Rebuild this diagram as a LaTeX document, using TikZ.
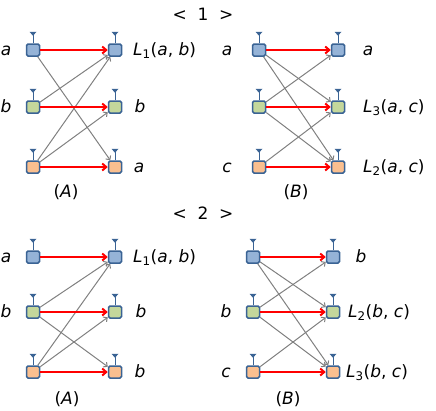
\documentclass[tikz,border=0pt]{standalone}
\usepackage{fontspec}
\setmainfont{DejaVu Sans}
\usetikzlibrary{arrows.meta}
\definecolor{portblue}{HTML}{95B3D7}
\definecolor{portgreen}{HTML}{C4D79B}
\definecolor{portorange}{HTML}{FABF8F}
\definecolor{portedge}{HTML}{3A6394}
\newcommand{\Lab}[3]{\textit{L}\textsubscript{#1}(\textit{#2},\ \textit{#3})}
\begin{document}
\begin{tikzpicture}[x=1pt,y=-1pt,
    port/.style={draw=portedge, line width=1.5pt, rounded corners=1.5pt,
      minimum width=13pt, minimum height=12pt, inner sep=0pt},
    match/.style={red, line width=2pt, -{Straight Barb[length=4pt,width=7pt]}},
    cross/.style={gray, line width=1pt, -{Straight Barb[length=3pt,width=6pt]}},
    lbl/.style={font=\fontsize{17}{20}\selectfont, inner sep=0pt}]
  \useasboundingbox (0,0) rectangle (436,410);
  % the four panels: left x, right x, row y
  \foreach \p/\xl/\xr/\ya/\yb/\yc in {1/33/115/50/107/167, 2/259/338/50/107/167,
      3/33/115/257/312/372, 4/253/333/257/312/372} {
    \node[port, fill=portblue]   (p\p-l1) at (\xl,\ya) {};
    \node[port, fill=portgreen]  (p\p-l2) at (\xl,\yb) {};
    \node[port, fill=portorange] (p\p-l3) at (\xl,\yc) {};
    \node[port, fill=portblue]   (p\p-r1) at (\xr,\ya) {};
    \node[port, fill=portgreen]  (p\p-r2) at (\xr,\yb) {};
    \node[port, fill=portorange] (p\p-r3) at (\xr,\yc) {};
  }
  % antennas
  \foreach \p in {1,...,4}
    \foreach \s in {l,r}
      \foreach \k in {1,2,3} {
        \draw[portedge, line width=1pt] (p\p-\s\k.north) -- ++(0,-8);
        \fill[portedge, shift={(p\p-\s\k.north)}] (-3.5,-11.5) -- (3.5,-11.5) -- (0,-7.5) -- cycle;
      }
  % crossing links
  \foreach \p/\a/\b in {1/1/3, 1/2/1, 1/3/1, 1/3/2,
      2/1/2, 2/1/3, 2/2/1, 2/2/3, 2/3/2,
      3/2/1, 3/2/3, 3/3/1, 3/3/2,
      4/1/2, 4/1/3, 4/2/1, 4/2/3, 4/3/2}
    \draw[cross] (p\p-l\a) -- (p\p-r\b);
  % straight links
  \foreach \p in {1,...,4}
    \foreach \k in {1,2,3}
      \draw[match] (p\p-l\k) -- (p\p-r\k);
  % labels
  \node[lbl] (t1) at (203,14) {<\ \ 1\ \ >};
  \node[lbl] (t2) at (203,213) {<\ \ 2\ \ >};
  \node[lbl, anchor=base] (a1la) at (6,55.5) {\textit{a}};
  \node[lbl, anchor=base] (a1lb) at (6,112.5) {\textit{b}};
  \node[lbl, anchor=base west] (a1ra) at (133,55.5) {\Lab{1}{a}{b}};
  \node[lbl, anchor=base] (a1rb) at (140,112.5) {\textit{b}};
  \node[lbl, anchor=base] (a1rc) at (139,172.5) {\textit{a}};
  \node[lbl] (capa1) at (66,192) {(\textit{A})};
  \node[lbl, anchor=base] (b1la) at (227,55.5) {\textit{a}};
  \node[lbl, anchor=base] (b1lc) at (227,172.5) {\textit{c}};
  \node[lbl, anchor=base] (b1ra) at (368,55.5) {\textit{a}};
  \node[lbl, anchor=base west] (b1rb) at (363,112.5) {\Lab{3}{a}{c}};
  \node[lbl, anchor=base west] (b1rc) at (363,172.5) {\Lab{2}{a}{c}};
  \node[lbl] (capb1) at (296,192) {(\textit{B})};
  \node[lbl, anchor=base] (a2la) at (6,262.5) {\textit{a}};
  \node[lbl, anchor=base] (a2lb) at (6,317.5) {\textit{b}};
  \node[lbl, anchor=base west] (a2ra) at (133,262.5) {\Lab{1}{a}{b}};
  \node[lbl, anchor=base] (a2rb) at (141,317.5) {\textit{b}};
  \node[lbl, anchor=base] (a2rc) at (140,377.5) {\textit{b}};
  \node[lbl] (capa2) at (67,399) {(\textit{A})};
  \node[lbl, anchor=base] (b2lb) at (226,317.5) {\textit{b}};
  \node[lbl, anchor=base] (b2lc) at (226,377.5) {\textit{c}};
  \node[lbl, anchor=base] (b2ra) at (361,262.5) {\textit{b}};
  \node[lbl, anchor=base west] (b2rb) at (348,317.5) {\Lab{2}{b}{c}};
  \node[lbl, anchor=base west] (b2rc) at (346,377.5) {\Lab{3}{b}{c}};
  \node[lbl] (capb2) at (288,399) {(\textit{B})};
\end{tikzpicture}
\end{document}
